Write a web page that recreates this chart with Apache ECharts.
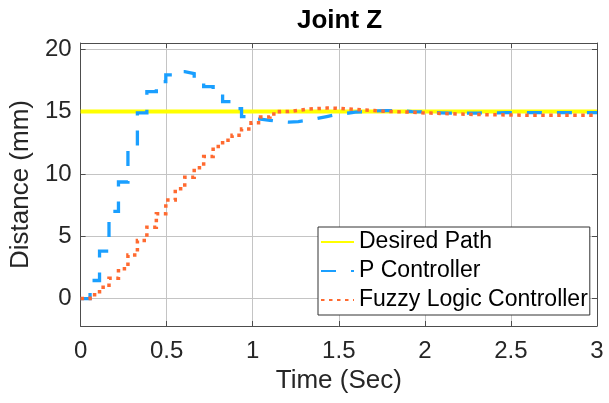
<!DOCTYPE html>
<html>
<head>
<meta charset="utf-8">
<script src="https://cdn.jsdelivr.net/npm/echarts@6/dist/echarts.min.js"></script>
<style>
  html, body { margin: 0; padding: 0; background: #fff; }
  #main { width: 609px; height: 403px; }
</style>
</head>
<body>
<div id="main"></div>
<script>
// sample times (s)
var time = [0, 0.055, 0.11, 0.165, 0.22, 0.275, 0.33, 0.385, 0.44, 0.495, 0.55, 0.605, 0.66, 0.715,
  0.77, 0.825, 0.88, 0.935, 0.99, 1.045, 1.1, 1.155, 1.21, 1.265, 1.32, 1.375, 1.43, 1.485, 1.54,
  1.595, 1.65, 1.705, 1.76, 1.815, 1.87, 1.925, 1.98, 2.035, 2.09, 2.145, 2.2, 2.255, 2.31, 2.365,
  2.42, 2.475, 2.53, 2.585, 2.64, 2.695, 2.75, 2.805, 2.86, 2.915, 2.97, 3.0];

var desiredTime = [0, 3];
var desiredPath = [15, 15];

var pController = [0, 1.45, 3.8, 7.0, 9.35, 12.15, 14.9, 16.6, 17.4, 17.95, 18.2, 18.05, 17.65, 17.0,
  16.45, 15.8, 15.24, 14.6, 14.4, 14.3, 14.2, 14.15, 14.2, 14.3, 14.45, 14.6, 14.75, 14.85, 14.95,
  15.0, 15.05, 15.07, 15.07, 15.05, 15.0, 14.97, 14.93, 14.9, 14.88, 14.87, 14.87, 14.88, 14.9,
  14.9, 14.91, 14.92, 14.92, 14.92, 14.92, 14.92, 14.92, 14.92, 14.92, 14.92, 14.92, 14.92];

var fuzzyController = [0, 0.3, 0.9, 1.63, 2.4, 3.5, 4.66, 5.73, 6.8, 7.9, 8.8, 9.74, 10.5, 11.4,
  12.2, 12.7, 13.1, 13.6, 14.1, 14.56, 14.8, 15.0, 15.1, 15.2, 15.24, 15.28, 15.27, 15.22, 15.17,
  15.12, 15.08, 15.03, 15.0, 14.97, 14.95, 14.9, 14.88, 14.85, 14.83, 14.8, 14.78, 14.76, 14.75,
  14.74, 14.73, 14.72, 14.7, 14.7, 14.7, 14.7, 14.7, 14.7, 14.7, 14.7, 14.7, 14.7];

var seriesNames = ['Desired Path', 'P Controller', 'Fuzzy Logic Controller'];
var xTicks = ['0', '0.5', '1', '1.5', '2', '2.5', '3'];
var yTicks = [0, 5, 10, 15, 20];

function pairs(xs, ys) {
  return xs.map(function (x, i) { return [x, ys[i]]; });
}

var font = '"Liberation Sans", Arial, Helvetica, sans-serif';
var axisColor = '#4d4d4d';
var gridColor = '#c4c4c4';
var textColor = '#262626';

var chart = echarts.init(document.getElementById('main'));
var option = {
  animation: false,
  textStyle: { fontFamily: font },
  title: {
    text: 'Joint Z',
    left: 292,
    top: 3,
    textStyle: { fontSize: 26, fontWeight: 'bold', color: '#000', fontFamily: font }
  },
  grid: { left: 79, right: 12, top: 43, bottom: 77 },
  legend: {
    data: seriesNames,
    orient: 'vertical',
    left: 318,
    top: 227,
    padding: [2, 2, 2, 2],
    itemGap: 3,
    itemWidth: 33,
    itemHeight: 14,
    itemStyle: { opacity: 0 },
    backgroundColor: '#fff',
    borderColor: '#333',
    borderWidth: 1,
    borderRadius: 0,
    textStyle: { fontSize: 23, lineHeight: 26, color: '#000', fontFamily: font }
  },
  xAxis: [{
    type: 'value',
    min: 0, max: 3, interval: 0.5,
    name: 'Time (Sec)',
    nameLocation: 'middle',
    nameGap: 40,
    nameTextStyle: { fontSize: 26, color: textColor, fontFamily: font },
    axisLine: { onZero: false, lineStyle: { color: axisColor, width: 1 } },
    axisTick: { inside: true, length: 5, lineStyle: { color: axisColor } },
    axisLabel: {
      fontSize: 24, color: textColor, margin: 13, fontFamily: font,
      formatter: function (v) {
        var s = String(Math.round(v * 10) / 10);
        return xTicks.indexOf(s) >= 0 ? s : '';
      }
    },
    splitLine: { show: true, lineStyle: { color: gridColor, width: 1 } }
  }, {
    type: 'value', position: 'top',
    min: 0, max: 3, interval: 0.5,
    axisLine: { show: true, onZero: false, lineStyle: { color: axisColor, width: 1 } },
    axisTick: { show: true, inside: true, length: 5, lineStyle: { color: axisColor } },
    axisLabel: { show: false },
    splitLine: { show: false }
  }],
  yAxis: [{
    type: 'value',
    min: -2.2, max: 20.5, splitNumber: 5,
    name: 'Distance (mm)',
    nameLocation: 'middle',
    nameGap: 42,
    nameTextStyle: { fontSize: 26, color: textColor, fontFamily: font },
    axisLine: { show: true, onZero: false, lineStyle: { color: axisColor, width: 1 } },
    axisTick: { show: true, inside: true, length: 5, lineStyle: { color: axisColor } },
    axisLabel: {
      fontSize: 24, color: textColor, margin: 9, fontFamily: font,
      formatter: function (v) {
        return yTicks.indexOf(Math.round(v * 100) / 100) >= 0 ? String(v) : '';
      }
    },
    splitLine: { show: true, lineStyle: { color: gridColor, width: 1 } }
  }, {
    type: 'value', position: 'right',
    min: -2.2, max: 20.5, splitNumber: 5,
    axisLine: { show: true, onZero: false, lineStyle: { color: axisColor, width: 1 } },
    axisTick: { show: true, inside: true, length: 5, lineStyle: { color: axisColor } },
    axisLabel: { show: false },
    splitLine: { show: false }
  }],
  series: [
    {
      name: seriesNames[0],
      type: 'line',
      data: pairs(desiredTime, desiredPath),
      symbol: 'none',
      color: '#ffff00',
      lineStyle: { color: '#ffff00', width: 4 }
    },
    {
      name: seriesNames[1],
      type: 'line',
      step: 'end',
      data: pairs(time, pController),
      symbol: 'none',
      color: '#1a9fff',
      lineStyle: { color: '#1a9fff', width: 3.3, type: [15, 15], cap: 'butt', join: 'miter' }
    },
    {
      name: seriesNames[2],
      type: 'line',
      step: 'end',
      data: pairs(time, fuzzyController),
      symbol: 'none',
      color: '#ff6a30',
      lineStyle: { color: '#ff6a30', width: 3.5, type: [3.5, 4.5], cap: 'butt', join: 'miter' }
    }
  ]
};
chart.setOption(option);
</script>
</body>
</html>
